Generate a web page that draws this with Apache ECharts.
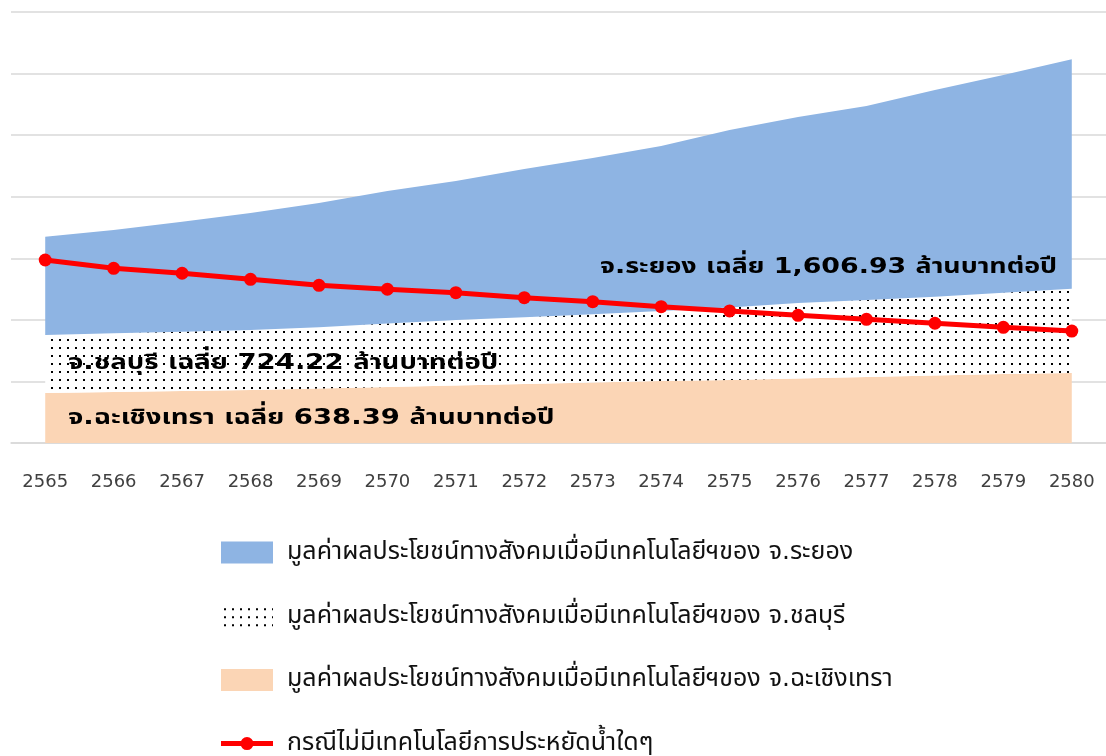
<!DOCTYPE html>
<html>
<head>
<meta charset="utf-8">
<title>chart</title>
<script src="https://cdn.jsdelivr.net/npm/echarts@6/dist/echarts.min.js"></script>
<style>
  html, body { margin: 0; padding: 0; background: #fff; }
  #chart { width: 1106px; height: 756px; }
</style>
</head>
<body>
<div id="chart"></div>
<script>
// ปี พ.ศ.
var years = ['2565', '2566', '2567', '2568', '2569', '2570', '2571', '2572',
  '2573', '2574', '2575', '2576', '2577', '2578', '2579', '2580']

// มูลค่าผลประโยชน์ (ล้านบาท) อ่านจากภาพ
var chachoengsao = [528, 538, 549, 560, 575, 591, 607, 623, 639, 655, 665, 681, 697, 713, 728, 739]
var chonburi = [612, 620, 626, 633, 646, 670, 691, 704, 720, 739, 765, 797, 813, 832, 858, 890]
var rayong = [1038, 1091, 1161, 1235, 1312, 1399, 1467, 1566, 1650, 1742, 1874, 1964, 2048, 2182, 2298, 2422]
var noTech = [1932, 1844, 1792, 1728, 1665, 1623, 1587, 1534, 1492, 1439, 1394, 1348, 1306, 1264, 1221, 1182]

var names = [
  'มูลค่าผลประโยชน์ทางสังคมเมื่อมีเทคโนโลยีฯของ จ.ระยอง',
  'มูลค่าผลประโยชน์ทางสังคมเมื่อมีเทคโนโลยีฯของ จ.ชลบุรี',
  'มูลค่าผลประโยชน์ทางสังคมเมื่อมีเทคโนโลยีฯของ จ.ฉะเชิงเทรา',
  'กรณีไม่มีเทคโนโลยีการประหยัดน้ำใดๆ'
]

var FONT = "'DejaVu Sans', 'Noto Sans Thai', 'Noto Sans', sans-serif"

// dotted fill (like excel 5% pattern)
function makeDots() {
  var c = document.createElement('canvas')
  c.width = 8
  c.height = 8
  var ctx = c.getContext('2d')
  ctx.fillStyle = '#fff'
  ctx.fillRect(0, 0, 8, 8)
  ctx.fillStyle = '#000'
  ctx.fillRect(3, 3, 2, 2)
  return { image: c, repeat: 'repeat' }
}
var dots = makeDots()

// legend icon: thick line with a dot in the middle (box 52x22)
var lineIcon = 'path://M0,0 M52,22 M0,8.5 L52,8.5 L52,13.5 L0,13.5 Z ' +
  'M32.5,11 A6.5,6.5 0 1 1 19.5,11 A6.5,6.5 0 1 1 32.5,11 Z'

var chart = echarts.init(document.getElementById('chart'))

chart.setOption({
  animation: false,
  grid: {
    left: 11,
    right: -4,
    top: 12,
    bottom: 313,
    containLabel: false
  },
  xAxis: {
    type: 'category',
    data: years,
    boundaryGap: true,
    axisLine: { lineStyle: { color: '#d9d9d9', width: 1.5 } },
    axisTick: { length: 9, lineStyle: { color: '#d9d9d9', width: 1.5 } },
    axisLabel: { margin: 30, fontSize: 18, color: '#404040', fontFamily: FONT }
  },
  yAxis: {
    type: 'value',
    min: 0,
    max: 4550,
    interval: 650,
    axisLabel: { show: false },
    axisLine: { show: false },
    axisTick: { show: false },
    splitLine: { lineStyle: { color: '#d9d9d9', width: 1.5 } }
  },
  legend: {
    orient: 'vertical',
    left: 221,
    top: 540,
    height: 230,
    padding: 0,
    itemWidth: 52,
    itemHeight: 22,
    itemGap: 38.7,
    itemStyle: { borderWidth: 0 },
    textStyle: { fontSize: 25, lineHeight: 22, color: '#111', fontFamily: FONT, padding: [0, 0, 0, 9] },
    data: [
      { name: names[0], icon: 'rect' },
      { name: names[1], icon: 'rect' },
      { name: names[2], icon: 'rect' },
      { name: names[3], icon: lineIcon }
    ]
  },
  series: [
    {
      name: names[2],
      type: 'line',
      stack: 'total',
      data: chachoengsao,
      showSymbol: false,
      itemStyle: { color: '#fbd5b5' },
      lineStyle: { width: 0, opacity: 0 },
      areaStyle: { color: '#fbd5b5', opacity: 1 }
    },
    {
      name: names[1],
      type: 'line',
      stack: 'total',
      data: chonburi,
      showSymbol: false,
      itemStyle: { color: dots },
      lineStyle: { width: 0, opacity: 0 },
      areaStyle: { color: dots, opacity: 1 }
    },
    {
      name: names[0],
      type: 'line',
      stack: 'total',
      data: rayong,
      showSymbol: false,
      itemStyle: { color: '#8eb4e3' },
      lineStyle: { width: 0, opacity: 0 },
      areaStyle: { color: '#8eb4e3', opacity: 1 }
    },
    {
      name: names[3],
      type: 'line',
      data: noTech,
      symbol: 'circle',
      symbolSize: 13,
      z: 5,
      itemStyle: { color: '#ff0000' },
      lineStyle: { color: '#ff0000', width: 5 }
    }
  ],
  // ข้อความค่าเฉลี่ยในพื้นที่กราฟ (ยืดแนวนอนให้กว้างเท่าต้นฉบับ)
  graphic: [
    {
      type: 'text', x: 600, y: 256, scaleX: 1.22, z: 10,
      style: { text: 'จ.ระยอง เฉลี่ย 1,606.93 ล้านบาทต่อปี', font: 'bold 22px ' + FONT, fill: '#000' }
    },
    {
      type: 'text', x: 68, y: 352, scaleX: 1.25, z: 10,
      style: { text: 'จ.ชลบุรี เฉลี่ย 724.22 ล้านบาทต่อปี', font: 'bold 22px ' + FONT, fill: '#000' }
    },
    {
      type: 'text', x: 68, y: 407, scaleX: 1.25, z: 10,
      style: { text: 'จ.ฉะเชิงเทรา เฉลี่ย 638.39 ล้านบาทต่อปี', font: 'bold 22px ' + FONT, fill: '#000' }
    }
  ]
})
</script>
</body>
</html>
